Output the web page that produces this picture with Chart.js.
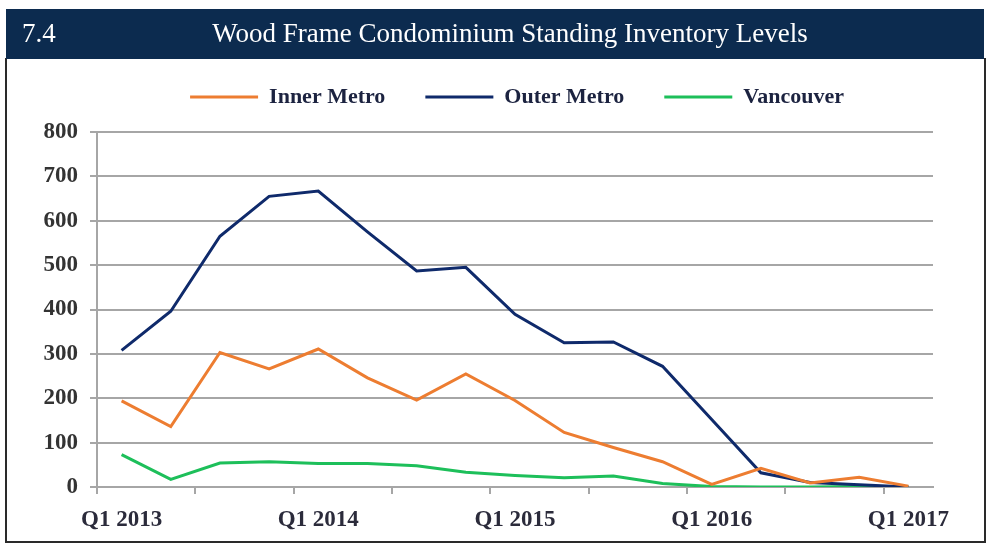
<!DOCTYPE html>
<html>
<head>
<meta charset="utf-8">
<script src="https://cdn.jsdelivr.net/npm/chart.js@4.4.1/dist/chart.umd.min.js"></script>
<style>
  html, body { margin: 0; padding: 0; background: #fff; }
  #wrap { position: relative; width: 1000px; height: 554px; overflow: hidden; }
  #bar { position: absolute; left: 6px; top: 9px; width: 978px; height: 50px; background: #0c2b4f;
         font-family: "Liberation Serif", "DejaVu Serif", serif; color: #fff; font-size: 27px; }
  #num { position: absolute; left: 16px; top: 9px; }
  #ttl { position: absolute; left: 0; width: 1008px; text-align: center; top: 9px; white-space: nowrap; }
  #box { position: absolute; left: 5px; top: 58px; width: 977px; height: 483px; border: 2px solid #2a2a2a; border-top: none; pointer-events: none; }
  canvas { position: absolute; left: 0; top: 0; }
</style>
</head>
<body>
<div id="wrap">
  <canvas id="c" width="1000" height="554"></canvas>
  <div id="box"></div>
  <div id="bar"><span id="num">7.4</span><span id="ttl">Wood Frame Condominium Standing Inventory Levels</span></div>
</div>
<script>
const categories = ["Q1 2013","Q2 2013","Q3 2013","Q4 2013","Q1 2014","Q2 2014","Q3 2014","Q4 2014","Q1 2015","Q2 2015","Q3 2015","Q4 2015","Q1 2016","Q2 2016","Q3 2016","Q4 2016","Q1 2017"];
const innerMetro = [194,136,303,266,311,246,196,255,195,123,89,57,6,42,9,22,2];
const outerMetro = [308,396,565,655,667,575,487,495,389,325,327,272,152,32,10,5,0];
const vancouver  = [73,17,54,57,53,53,48,33,26,21,25,8,1,0,0,1,0];
const yTicks = [0,100,200,300,400,500,600,700,800];

const legendMargin = {
  id: 'legendMargin',
  beforeInit(chart) {
    const origFit = chart.legend.fit;
    chart.legend.fit = function () {
      origFit.bind(chart.legend)();
      this.height = 86;
    };
  }
};

const serif = '"Liberation Serif", "DejaVu Serif", serif';

new Chart(document.getElementById('c'), {
  type: 'line',
  data: {
    labels: categories,
    datasets: [
      { label: 'Inner Metro', data: innerMetro, borderColor: '#ed7d31', backgroundColor: '#ed7d31', borderWidth: 3, pointRadius: 0, tension: 0 },
      { label: 'Outer Metro', data: outerMetro, borderColor: '#0f2a6b', backgroundColor: '#0f2a6b', borderWidth: 3, pointRadius: 0, tension: 0 },
      { label: 'Vancouver', data: vancouver, borderColor: '#1dbf5a', backgroundColor: '#1dbf5a', borderWidth: 3, pointRadius: 0, tension: 0 }
    ]
  },
  options: {
    responsive: false,
    animation: false,
    layout: { padding: { top: 46, right: 0, left: 34, bottom: 0 } },
    plugins: {
      tooltip: { enabled: false },
      legend: {
        position: 'top',
        labels: {
          boxWidth: 68,
          boxHeight: 3,
          padding: 40,
          color: '#1c2340',
          font: { family: serif, size: 22, weight: 'bold' },
          generateLabels(chart) {
            const items = Chart.defaults.plugins.legend.labels.generateLabels(chart);
            items.forEach(i => { i.lineWidth = 0; i.fillStyle = i.strokeStyle; });
            return items;
          }
        }
      }
    },
    scales: {
      x: {
        type: 'category',
        offset: true,
        grid: {
          offset: true,
          drawOnChartArea: false,
          drawTicks: true,
          tickLength: 7,
          lineWidth: 2,
          color: (ctx) => (ctx.index % 2 === 0 ? '#a6a6a6' : 'rgba(0,0,0,0)')
        },
        border: { display: true, color: '#a6a6a6', width: 2 },
        ticks: {
          autoSkip: false,
          maxRotation: 0,
          padding: 12,
          color: '#2b2b3b',
          font: { family: serif, size: 23, weight: 'bold' },
          callback: function (v, i) { return i % 4 === 0 ? categories[i] : ''; }
        },
        afterFit(scale) { scale.height = 67; }
      },
      y: {
        min: 0,
        max: 800,
        afterBuildTicks(scale) { scale.ticks = yTicks.map(v => ({ value: v })); },
        grid: { color: '#a6a6a6', lineWidth: 2, tickLength: 7 },
        border: { display: true, color: '#a6a6a6', width: 2 },
        ticks: {
          padding: 12,
          color: '#333333',
          font: { family: serif, size: 23, weight: 'bold' }
        },
        afterFit(scale) { scale.width = 63; }
      },
      yRight: {
        position: 'right',
        display: true,
        grid: { display: false, drawTicks: false },
        border: { display: false },
        ticks: { display: false },
        afterFit(scale) { scale.width = 67; }
      }
    }
  },
  plugins: [legendMargin]
});
</script>
</body>
</html>
